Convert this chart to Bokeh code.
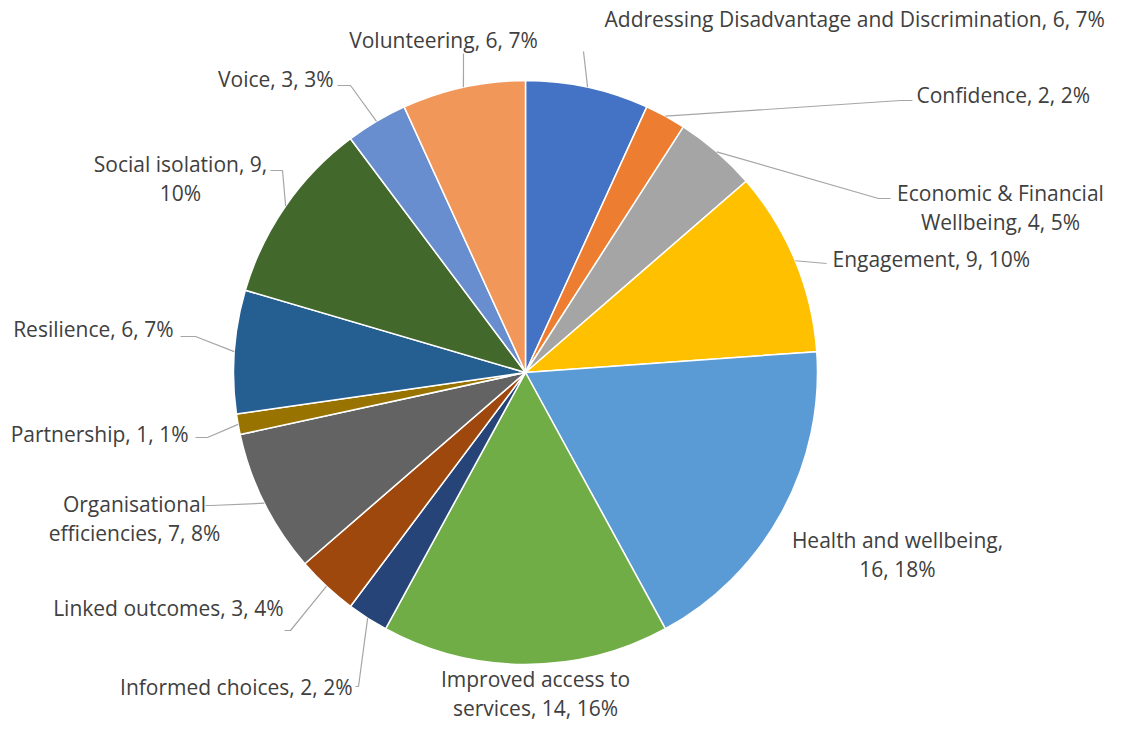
import math
from bokeh.plotting import figure
from bokeh.models import Range1d, ColumnDataSource
from bokeh.core.properties import value
from bokeh.embed import file_html
from bokeh.resources import INLINE

# ---- data ----
categories = ["Addressing Disadvantage and Discrimination", "Confidence",
              "Economic & Financial Wellbeing", "Engagement", "Health and wellbeing",
              "Improved access to services", "Informed choices", "Linked outcomes",
              "Organisational efficiencies", "Partnership", "Resilience",
              "Social isolation", "Voice", "Volunteering"]
counts = [6, 2, 4, 9, 16, 14, 2, 3, 7, 1, 6, 9, 3, 6]
percents = [7, 2, 5, 10, 18, 16, 2, 4, 8, 1, 7, 10, 3, 7]

# ---- styles ----
colors = ["#4472C4", "#ED7D31", "#A5A5A5", "#FFC000", "#5B9BD5", "#70AD47",
          "#264478", "#9E480E", "#636363", "#997300", "#255E91", "#43682B",
          "#698ED0", "#F1975A"]

W, H = 1123, 739
def Y(py):
    return H - py

# label layout in reference pixels: anchor x, anchor y (from top), alignment,
# word after which the label wraps, leader-line points after the pie edge
labels_layout = [
    (604, 22, "left", None, [(583, 55)]),
    (916, 98, "left", None, [(900, 104), (912, 104)]),
    (1000, 211, "center", "Financial", [(878, 202), (890, 202)]),
    (832, 262, "left", None, [(826, 267)]),
    (897, 558, "center", "wellbeing,", None),
    (535, 697, "center", "to", None),
    (352, 690, "right", None, [(358, 690), (355, 690)]),
    (283, 611, "right", None, [(290, 634), (284, 634)]),
    (134, 522, "center", "Organisational", [(211, 509), (205, 509)]),
    (188, 437, "right", None, [(207, 441), (195, 441)]),
    (173, 332, "right", None, [(195, 340), (180, 340)]),
    (180, 182, "center", "9,", [(282, 174), (270, 174)]),
    (333, 82, "right", None, [(350, 89), (337, 89)]),
    (443, 43, "center", None, [(463, 57)]),
]

cx, cy, r = 525, Y(376), 292
total = sum(counts)

p = figure(width=W - 16, height=H - 16, output_backend="svg", toolbar_location=None,
           x_range=Range1d(0, W - 16), y_range=Range1d(12, H - 4), min_border=0)
p.axis.visible = False
p.grid.visible = False
p.outline_line_color = None

starts, ends, mids = [], [], []
c = 0
for v in counts:
    a0 = math.pi / 2 - 2 * math.pi * (c + v) / total
    a1 = math.pi / 2 - 2 * math.pi * c / total
    starts.append(a0)
    ends.append(a1)
    mids.append((a0 + a1) / 2)
    c += v

src = ColumnDataSource(dict(start=starts, end=ends, color=colors))
p.wedge(x=cx, y=cy, radius=r, start_angle="start", end_angle="end",
        fill_color="color", line_color="white", line_width=1.5, source=src)

# leader lines
xs, ys = [], []
for i, lay in enumerate(labels_layout):
    pts = lay[4]
    if not pts:
        continue
    m = mids[i]
    lx = [cx + r * math.cos(m)]
    ly = [cy + r * math.sin(m)]
    for (px, py) in pts:
        lx.append(px)
        ly.append(Y(py))
    xs.append(lx)
    ys.append(ly)
p.multi_line(xs=xs, ys=ys, line_color="#A6A6A6", line_width=1.2)

# label texts
tx, ty, tt, ta = [], [], [], []
for i, lay in enumerate(labels_layout):
    ax, ay, align, brk, _ = lay
    t = f"{categories[i]}, {counts[i]}, {percents[i]}%"
    if brk:
        k = t.index(brk + " ") + len(brk)
        t = t[:k] + "\n" + t[k + 1:]
    tx.append(ax)
    ty.append(Y(ay))
    tt.append(t)
    ta.append(align)

tsrc = ColumnDataSource(dict(x=tx, y=ty, text=tt, align=ta))
p.text(x="x", y="y", text="text", text_align="align", text_baseline="middle",
       text_font=value("Open Sans"), text_font_size="21px", text_color="#404040",
       text_line_height=1.05, source=tsrc)

open("out.html", "w").write(file_html(p, INLINE))
